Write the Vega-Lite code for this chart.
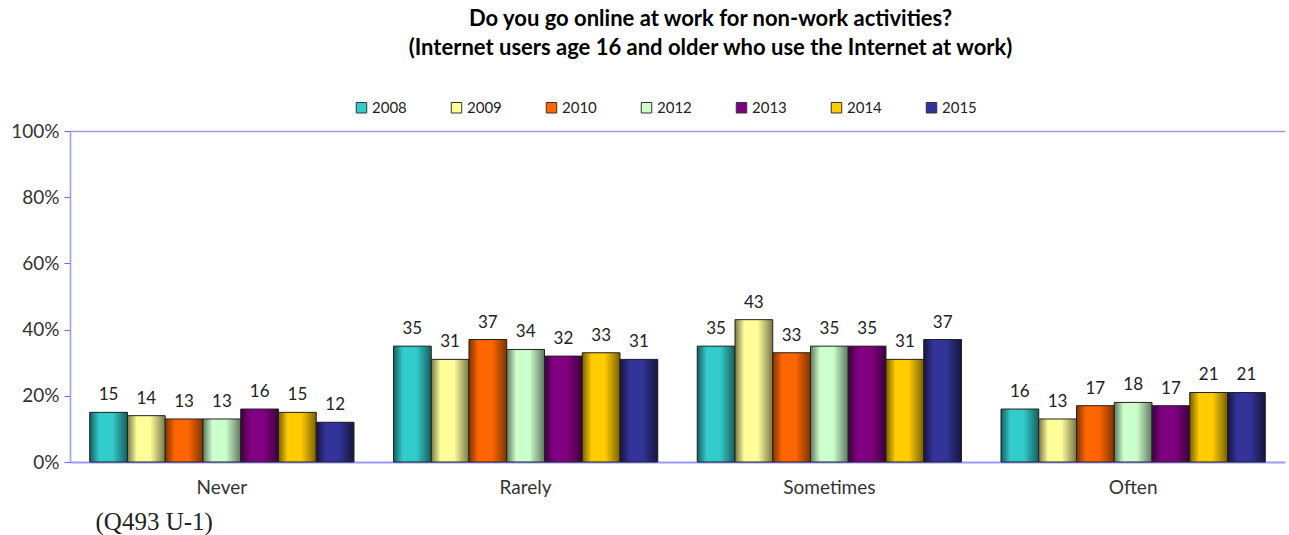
{
  "$schema": "https://vega.github.io/schema/vega-lite/v6.json",
  "autosize": {"type": "none"},
  "width": 1215,
  "height": 331,
  "padding": {"left": 70, "top": 131, "right": 4, "bottom": 73},
  "background": "white",
  "title": {
    "text": ["Do you go online at work for non-work activities?", "(Internet users age 16 and older who use the Internet at work)"],
    "font": "Lato",
    "fontSize": 22,
    "fontWeight": "bold",
    "color": "#000000",
    "anchor": "middle",
    "dx": 33,
    "lineHeight": 29,
    "offset": 40
  },
  "data": {
    "values": [
      {"cat": "Never", "year": "2008", "v": 15},
      {"cat": "Never", "year": "2009", "v": 14},
      {"cat": "Never", "year": "2010", "v": 13},
      {"cat": "Never", "year": "2012", "v": 13},
      {"cat": "Never", "year": "2013", "v": 16},
      {"cat": "Never", "year": "2014", "v": 15},
      {"cat": "Never", "year": "2015", "v": 12},
      {"cat": "Rarely", "year": "2008", "v": 35},
      {"cat": "Rarely", "year": "2009", "v": 31},
      {"cat": "Rarely", "year": "2010", "v": 37},
      {"cat": "Rarely", "year": "2012", "v": 34},
      {"cat": "Rarely", "year": "2013", "v": 32},
      {"cat": "Rarely", "year": "2014", "v": 33},
      {"cat": "Rarely", "year": "2015", "v": 31},
      {"cat": "Sometimes", "year": "2008", "v": 35},
      {"cat": "Sometimes", "year": "2009", "v": 43},
      {"cat": "Sometimes", "year": "2010", "v": 33},
      {"cat": "Sometimes", "year": "2012", "v": 35},
      {"cat": "Sometimes", "year": "2013", "v": 35},
      {"cat": "Sometimes", "year": "2014", "v": 31},
      {"cat": "Sometimes", "year": "2015", "v": 37},
      {"cat": "Often", "year": "2008", "v": 16},
      {"cat": "Often", "year": "2009", "v": 13},
      {"cat": "Often", "year": "2010", "v": 17},
      {"cat": "Often", "year": "2012", "v": 18},
      {"cat": "Often", "year": "2013", "v": 17},
      {"cat": "Often", "year": "2014", "v": 21},
      {"cat": "Often", "year": "2015", "v": 21}
    ]
  },
  "encoding": {
    "x": {
      "field": "cat",
      "type": "nominal",
      "sort": ["Never", "Rarely", "Sometimes", "Often"],
      "scale": {"paddingInner": 0.13, "paddingOuter": 0.065},
      "axis": {
        "title": "(Q493 U-1)",
        "titleFont": "Liberation Serif",
        "titleFontSize": 25,
        "titleFontWeight": "normal",
        "titleColor": "#222222",
        "titleAnchor": "start",
        "titleAlign": "left",
        "titleBaseline": "alphabetic",
        "titleX": 25,
        "titleY": 67,
        "labelAngle": 0,
        "labelFont": "Lato",
        "labelFontSize": 19,
        "labelColor": "#333333",
        "labelPadding": 16,
        "ticks": false,
        "domainColor": "#9999FF",
        "domainWidth": 2,
        "grid": false
      }
    },
    "xOffset": {
      "field": "year",
      "type": "nominal",
      "scale": {"domain": ["2008", "2009", "2010", "2012", "2013", "2014", "2015"], "paddingInner": 0, "paddingOuter": 0}
    },
    "y": {
      "field": "v",
      "type": "quantitative",
      "scale": {"domain": [0, 100], "nice": false},
      "axis": {
        "title": null,
        "values": [0, 20, 40, 60, 80, 100],
        "labelExpr": "datum.value + '%'",
        "labelFont": "Lato",
        "labelFontSize": 19,
        "labelColor": "#333333",
        "labelPadding": 5,
        "tickColor": "#6666FF",
        "tickSize": 6,
        "domainColor": "#9999FF",
        "domainWidth": 1.5,
        "grid": true,
        "gridColor": "#9999FF",
        "gridWidth": 1.5,
        "gridOpacity": {"condition": {"test": "datum.value === 100", "value": 1}, "value": 0}
      }
    }
  },
  "layer": [
    {
      "mark": {"type": "bar"},
      "encoding": {
        "color": {
          "field": "year",
          "type": "nominal",
          "scale": {
            "domain": ["2008", "2009", "2010", "2012", "2013", "2014", "2015"],
            "range": ["#33CCCC", "#FFFF99", "#FF6600", "#CCFFCC", "#800080", "#FFCC00", "#333399"]
          },
          "legend": {
            "title": null,
            "orient": "none",
            "direction": "horizontal",
            "legendX": 284,
            "legendY": -31,
            "symbolType": "square",
            "symbolSize": 110,
            "symbolStrokeColor": "#333333",
            "symbolStrokeWidth": 1,
            "symbolOpacity": 1,
            "labelFont": "Lato",
            "labelFontSize": 15,
            "labelColor": "#222222",
            "labelOffset": 3,
            "columnPadding": 42,
            "labelLimit": 60
          }
        }
      }
    },
    {
      "transform": [{"filter": "datum.year === '2008'"}],
      "mark": {"type": "bar", "stroke": "#222222", "strokeWidth": 1,
        "fill": {"gradient": "linear", "x1": 0, "y1": 0, "x2": 1, "y2": 0,
          "stops": [{"offset": 0, "color": "#165e5e"}, {"offset": 0.25, "color": "#33CCCC"}, {"offset": 0.6, "color": "#33CCCC"}, {"offset": 1, "color": "#165e5e"}]}}
    },
    {
      "transform": [{"filter": "datum.year === '2009'"}],
      "mark": {"type": "bar", "stroke": "#222222", "strokeWidth": 1,
        "fill": {"gradient": "linear", "x1": 0, "y1": 0, "x2": 1, "y2": 0,
          "stops": [{"offset": 0, "color": "#77774a"}, {"offset": 0.25, "color": "#FFFF99"}, {"offset": 0.6, "color": "#FFFF99"}, {"offset": 1, "color": "#77774a"}]}}
    },
    {
      "transform": [{"filter": "datum.year === '2010'"}],
      "mark": {"type": "bar", "stroke": "#222222", "strokeWidth": 1,
        "fill": {"gradient": "linear", "x1": 0, "y1": 0, "x2": 1, "y2": 0,
          "stops": [{"offset": 0, "color": "#803300"}, {"offset": 0.25, "color": "#FF6600"}, {"offset": 0.6, "color": "#FF6600"}, {"offset": 1, "color": "#803300"}]}}
    },
    {
      "transform": [{"filter": "datum.year === '2012'"}],
      "mark": {"type": "bar", "stroke": "#222222", "strokeWidth": 1,
        "fill": {"gradient": "linear", "x1": 0, "y1": 0, "x2": 1, "y2": 0,
          "stops": [{"offset": 0, "color": "#5f785f"}, {"offset": 0.25, "color": "#CCFFCC"}, {"offset": 0.6, "color": "#CCFFCC"}, {"offset": 1, "color": "#5f785f"}]}}
    },
    {
      "transform": [{"filter": "datum.year === '2013'"}],
      "mark": {"type": "bar", "stroke": "#222222", "strokeWidth": 1,
        "fill": {"gradient": "linear", "x1": 0, "y1": 0, "x2": 1, "y2": 0,
          "stops": [{"offset": 0, "color": "#3c003c"}, {"offset": 0.25, "color": "#800080"}, {"offset": 0.6, "color": "#800080"}, {"offset": 1, "color": "#3c003c"}]}}
    },
    {
      "transform": [{"filter": "datum.year === '2014'"}],
      "mark": {"type": "bar", "stroke": "#222222", "strokeWidth": 1,
        "fill": {"gradient": "linear", "x1": 0, "y1": 0, "x2": 1, "y2": 0,
          "stops": [{"offset": 0, "color": "#7a6000"}, {"offset": 0.25, "color": "#FFCC00"}, {"offset": 0.6, "color": "#FFCC00"}, {"offset": 1, "color": "#7a6000"}]}}
    },
    {
      "transform": [{"filter": "datum.year === '2015'"}],
      "mark": {"type": "bar", "stroke": "#222222", "strokeWidth": 1,
        "fill": {"gradient": "linear", "x1": 0, "y1": 0, "x2": 1, "y2": 0,
          "stops": [{"offset": 0, "color": "#15153f"}, {"offset": 0.25, "color": "#333399"}, {"offset": 0.6, "color": "#333399"}, {"offset": 1, "color": "#15153f"}]}}
    },
    {
      "mark": {"type": "text", "baseline": "bottom", "dy": -8, "font": "Lato", "fontSize": 17, "color": "#222222"},
      "encoding": {"text": {"field": "v", "type": "quantitative"}}
    }
  ],
  "config": {"view": {"stroke": null}}
}
